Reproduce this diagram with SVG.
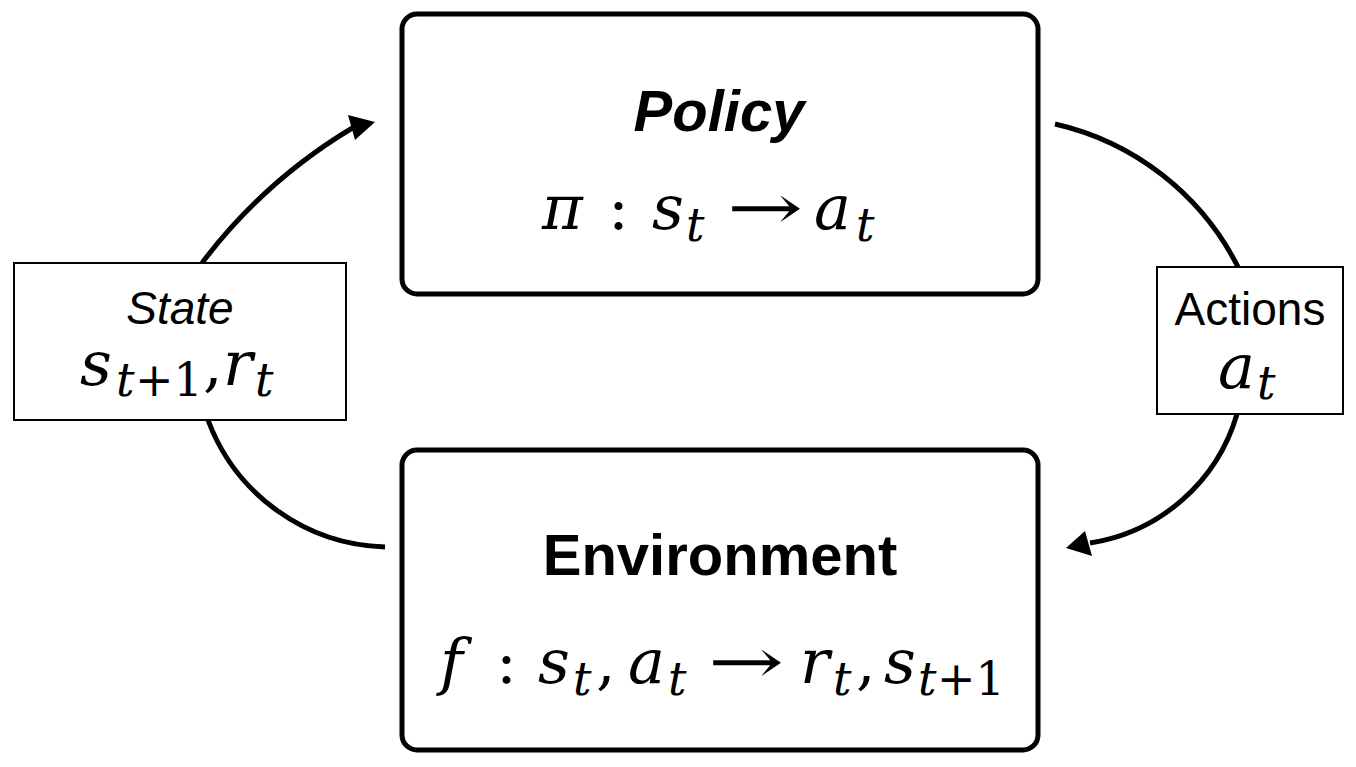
<svg xmlns="http://www.w3.org/2000/svg" width="1356" height="767" viewBox="0 0 1356 767">
<style>
.box{fill:#fff;stroke:#000;stroke-width:5}
.lbl{fill:#fff;stroke:#000;stroke-width:2}
.conn{fill:none;stroke:#000;stroke-width:5}
.head{fill:#000;stroke:none}
.title{font-family:"Liberation Sans",Arial,sans-serif;font-weight:bold;font-size:58px;text-anchor:middle;fill:#000}
.sans{font-family:"Liberation Sans",Arial,sans-serif;font-size:46px;fill:#000}
.m{font-family:"DejaVu Serif","Liberation Serif",serif;font-style:italic;font-size:62px;fill:#000}
.s{font-size:46px}
.up{font-style:normal}
</style>
<rect width="1356" height="767" fill="#fff"/>
<g id="connectors">
<path class="conn" d="M202,263 A530,530 0 0 1 354,127"/>
<polygon class="head" points="375,122 348,115 355,140"/>
<path class="conn" d="M1055,124 A273,273 0 0 1 1238,267"/>
<path class="conn" d="M1237,414 A182,182 0 0 1 1090,543"/>
<polygon class="head" points="1066,548 1085,531 1092,556"/>
<path class="conn" d="M208,420 A195,195 0 0 0 385,547"/>
</g>
<g id="policy">
<rect class="box" x="402" y="14" width="636" height="280" rx="15"/>
<text class="title" x="719" y="131" font-style="italic">Policy</text>
<text class="m" x="542" y="229">π</text>
<text class="m up" x="608" y="229">:</text>
<text class="m" x="652" y="229">s</text>
<text class="m s" x="686" y="241">t</text>
<text class="m up" x="727" y="229" textLength="76" lengthAdjust="spacingAndGlyphs">→</text>
<text class="m" x="814" y="229">a</text>
<text class="m s" x="856" y="241">t</text>
</g>
<g id="environment">
<rect class="box" x="402" y="450" width="636" height="300" rx="15"/>
<text class="title" x="720" y="575">Environment</text>
<text class="m" x="440" y="683">f</text>
<text class="m up" x="496" y="683">:</text>
<text class="m" x="538" y="683">s</text>
<text class="m s" x="573" y="695">t</text>
<text class="m up" x="596" y="683">,</text>
<text class="m" x="628" y="683">a</text>
<text class="m s" x="668" y="695">t</text>
<text class="m up" x="708" y="683" textLength="76" lengthAdjust="spacingAndGlyphs">→</text>
<text class="m" x="800" y="683">r</text>
<text class="m s" x="833" y="695">t</text>
<text class="m up" x="856" y="683">,</text>
<text class="m" x="884" y="683">s</text>
<text class="m s" x="918" y="695">t</text>
<text class="m s up" x="937" y="695">+1</text>
</g>
<g id="state">
<rect class="lbl" x="14" y="263" width="332" height="157"/>
<text class="sans" x="180" y="324" text-anchor="middle" font-style="italic">State</text>
<text class="m" x="80" y="385">s</text>
<text class="m s" x="116" y="396">t</text>
<text class="m s up" x="135" y="396">+1</text>
<text class="m up" x="203" y="385">,</text>
<text class="m" x="223" y="385">r</text>
<text class="m s" x="255" y="396">t</text>
</g>
<g id="actions">
<rect class="lbl" x="1157" y="267" width="186" height="147"/>
<text class="sans" x="1250" y="325" text-anchor="middle">Actions</text>
<text class="m" x="1218" y="388">a</text>
<text class="m s" x="1257" y="399">t</text>
</g>
</svg>
